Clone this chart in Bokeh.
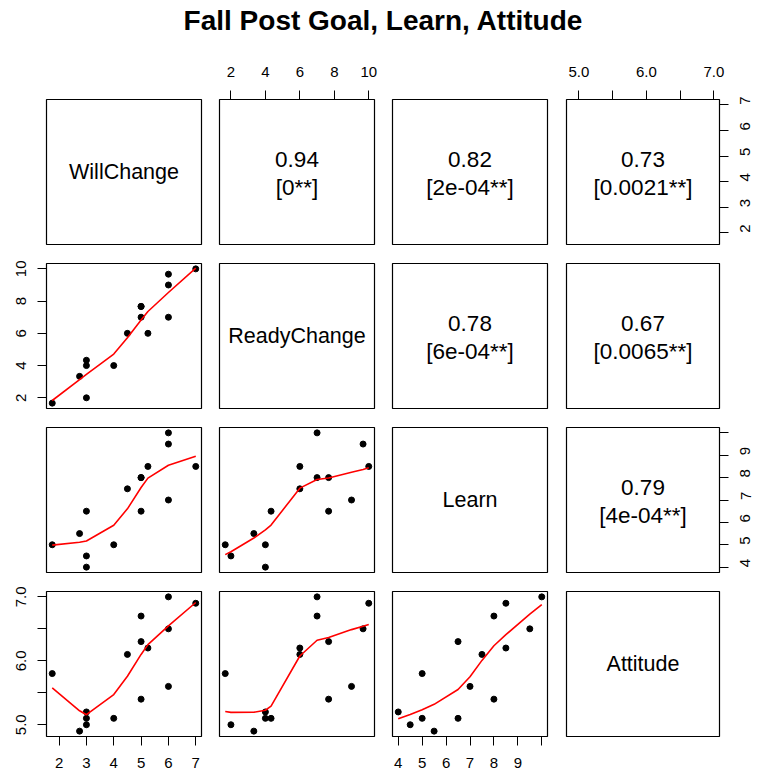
import numpy as np
from bokeh.plotting import figure
from bokeh.models import Range1d, LinearAxis, FixedTicker, ColumnDataSource
from bokeh.layouts import gridplot, column
from bokeh.embed import file_html
from bokeh.resources import INLINE
from bokeh.core.properties import value

# ---------------- data ----------------
chart_title = "Fall Post Goal, Learn, Attitude"
var_names = ["WillChange", "ReadyChange", "Learn", "Attitude"]

will_change = [1.75, 2.75, 3, 3, 3, 4, 4.5, 5, 5, 5, 5.25, 6, 6, 6, 7]
ready_change = [1.67, 3.33, 4.0, 4.33, 2.0, 4.0, 6.0, 7.0, 7.67, 7.67, 6.0, 7.0, 9.67, 9.0, 10.0]
learn = [5.0, 5.5, 4.0, 6.5, 4.5, 5.0, 7.5, 8.0, 6.5, 8.0, 8.5, 10.0, 9.5, 7.0, 8.5]
attitude = [5.8, 4.9, 5.2, 5.1, 5.0, 5.1, 6.1, 6.7, 6.3, 5.4, 6.2, 7.0, 6.5, 5.6, 6.9]

corr_text = [["", "0.94", "0.82", "0.73"],
             ["", "", "0.78", "0.67"],
             ["", "", "", "0.79"],
             ["", "", "", ""]]
p_text = [["", "[0**]", "[2e-04**]", "[0.0021**]"],
          ["", "", "[6e-04**]", "[0.0065**]"],
          ["", "", "", "[4e-04**]"],
          ["", "", "", ""]]

will_ticks = [2, 3, 4, 5, 6, 7]
will_labels = ["2", "3", "4", "5", "6", "7"]
ready_ticks = [2, 4, 6, 8, 10]
ready_labels = ["2", "4", "6", "8", "10"]
learn_ticks = [4, 5, 6, 7, 8, 9, 10]
learn_labels = ["4", "5", "6", "7", "8", "9", ""]
att_ticks = [5.0, 5.5, 6.0, 6.5, 7.0]
att_labels = ["5.0", "", "6.0", "", "7.0"]

data = [will_change, ready_change, learn, attitude]
ticks = [will_ticks, ready_ticks, learn_ticks, att_ticks]
tick_labels = [will_labels, ready_labels, learn_labels, att_labels]


# ---------------- lowess (as in R's panel.smooth) ----------------
def lowess(x, y, f=2 / 3, nsteps=3):
    x = np.asarray(x, float)
    y = np.asarray(y, float)
    o = np.argsort(x, kind="stable")
    x, y = x[o], y[o]
    n = len(x)
    ns = max(2, min(n, int(f * n + 1e-7)))
    delta = 0.01 * (x[-1] - x[0])
    rng = x[-1] - x[0]
    ys = np.zeros(n)
    rw = np.ones(n)

    def lowest(xs, nleft, nright, userw):
        h = max(xs - x[nleft], x[nright] - xs)
        h9, h1 = 0.999 * h, 0.001 * h
        w = np.zeros(n)
        a = 0.0
        j = nleft
        while j < n:
            r = abs(x[j] - xs)
            if r <= h9:
                w[j] = 1.0 if r <= h1 else (1 - (r / h) ** 3) ** 3
                if userw:
                    w[j] *= rw[j]
                a += w[j]
            elif x[j] > xs:
                break
            j += 1
        nrt = j - 1
        if a <= 0:
            return None
        idx = slice(nleft, nrt + 1)
        w[idx] /= a
        if h > 0:
            aa = np.sum(w[idx] * x[idx])
            b = xs - aa
            c = np.sum(w[idx] * (x[idx] - aa) ** 2)
            if np.sqrt(c) > 0.001 * rng:
                b /= c
                w[idx] *= (b * (x[idx] - aa) + 1.0)
        return float(np.sum(w[idx] * y[idx]))

    it = 1
    while it <= nsteps + 1:
        nleft, nright = 0, ns - 1
        last = -1
        i = 0
        while True:
            if nright < n - 1:
                d1 = x[i] - x[nleft]
                d2 = x[nright + 1] - x[i]
                if d1 > d2:
                    nleft += 1
                    nright += 1
                    continue
            v = lowest(x[i], nleft, nright, it > 1)
            ys[i] = y[i] if v is None else v
            if last < i - 1:
                denom = x[i] - x[last]
                for j in range(last + 1, i):
                    alpha = (x[j] - x[last]) / denom
                    ys[j] = alpha * ys[i] + (1 - alpha) * ys[last]
            last = i
            cut = x[last] + delta
            i = last + 1
            while i < n:
                if x[i] > cut:
                    break
                if x[i] == x[last]:
                    ys[i] = ys[last]
                    last = i
                i += 1
            i = max(last + 1, i - 1)
            if last >= n - 1:
                break
        res = y - ys
        sc = np.mean(np.abs(res))
        if it > nsteps:
            break
        ar = np.sort(np.abs(res))
        m1 = n // 2
        if n % 2 == 0:
            cmad = 3.0 * (ar[m1] + ar[n - m1 - 1])
        else:
            cmad = 6.0 * ar[m1]
        if cmad < 1e-7 * sc:
            break
        c9, c1 = 0.999 * cmad, 0.001 * cmad
        r = np.abs(res)
        rw = np.where(r <= c1, 1.0, np.where(r <= c9, (1 - (r / cmad) ** 2) ** 2, 0.0))
        it += 1
    return x, ys


# ---------------- layout ----------------
FONT = "Liberation Sans"
frame_w, frame_h = 155, 145
col_left = [46, 9, 9, 10]
col_right = [9, 9, 9, 37]
row_top = [45, 10, 10, 10]
row_bottom = [9, 9, 9, 40]
title_h = 54


def rng_of(v):
    lo, hi = min(v), max(v)
    pad = 0.04 * (hi - lo)
    return Range1d(lo - pad, hi + pad)


ranges_x = [rng_of(v) for v in data]
ranges_y = [rng_of(v) for v in data]


def make_axis(k, standoff, orientation=None):
    ax = LinearAxis(
        ticker=FixedTicker(ticks=ticks[k]),
        major_label_overrides={t: lab for t, lab in zip(ticks[k], tick_labels[k])},
        major_tick_out=9, major_tick_in=0,
        minor_tick_out=0, minor_tick_in=0,
        major_tick_line_color="black", major_tick_line_width=1,
        axis_line_color=None,
        major_label_text_font=FONT,
        major_label_text_font_size="15px",
        major_label_text_color="black",
        major_label_standoff=standoff,
    )
    if orientation is not None:
        ax.major_label_orientation = orientation
    return ax


rows = []
for i in range(4):
    row = []
    for j in range(4):
        p = figure(
            width=col_left[j] + frame_w + col_right[j],
            height=row_top[i] + frame_h + row_bottom[i],
            x_range=ranges_x[j], y_range=ranges_y[i],
            x_axis_location=None, y_axis_location=None,
            toolbar_location=None, output_backend="svg",
            min_border_left=col_left[j], min_border_right=col_right[j],
            min_border_top=row_top[i], min_border_bottom=row_bottom[i],
        )
        p.xgrid.visible = False
        p.ygrid.visible = False
        p.outline_line_color = "black"
        p.outline_line_width = 1.2
        p.background_fill_color = "white"
        p.border_fill_color = "white"

        if i == 3 and j % 2 == 0:
            p.add_layout(make_axis(j, 12), "below")
        if i == 0 and j % 2 == 1:
            p.add_layout(make_axis(j, 14), "above")
        if j == 0 and i % 2 == 1:
            p.add_layout(make_axis(i, 11, "vertical"), "left")
        if j == 3 and i % 2 == 0:
            p.add_layout(make_axis(i, 17, np.pi / 2), "right")

        xm = (ranges_x[j].start + ranges_x[j].end) / 2
        ym = (ranges_y[i].start + ranges_y[i].end) / 2
        if i == j:
            p.text(x=[xm], y=[ym], text=[var_names[i]], text_align="center",
                   text_baseline="middle", text_font=value(FONT),
                   text_font_size="21.5px", text_color="black")
        elif i < j:
            p.text(x=[xm], y=[ym], text=[corr_text[i][j]], text_align="center",
                   text_baseline="middle", text_font=value(FONT),
                   text_font_size="22.5px", text_color="black", y_offset=-13)
            p.text(x=[xm], y=[ym], text=[p_text[i][j]], text_align="center",
                   text_baseline="middle", text_font=value(FONT),
                   text_font_size="22.5px", text_color="black", y_offset=15)
        else:
            src = ColumnDataSource(dict(x=data[j], y=data[i]))
            p.scatter("x", "y", source=src, size=6, color="black")
            lx, ly = lowess(data[j], data[i])
            p.line(x=list(lx), y=list(ly), line_color="red", line_width=1.6)
        row.append(p)
    rows.append(row)

grid = gridplot(rows, toolbar_location=None)

tw = sum(col_left) + sum(col_right) + 4 * frame_w
title_fig = figure(width=tw, height=title_h, x_range=Range1d(0, tw), y_range=Range1d(0, title_h),
                   x_axis_location=None, y_axis_location=None, toolbar_location=None,
                   output_backend="svg", min_border=0)
title_fig.xgrid.visible = False
title_fig.ygrid.visible = False
title_fig.outline_line_color = None
title_fig.text(x=[tw / 2 + 4], y=[title_h - 20], text=[chart_title], text_align="center",
               text_baseline="middle", text_font=value(FONT), text_font_size="28px",
               text_font_style="bold", text_color="black")

layout = column(title_fig, grid)
open("out.html", "w").write(file_html(layout, INLINE))
